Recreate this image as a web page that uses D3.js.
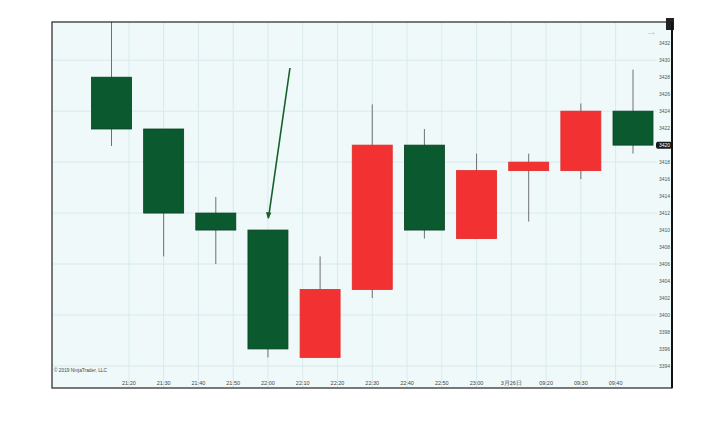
<!DOCTYPE html>
<html>
<head>
<meta charset="utf-8">
<script src="https://d3js.org/d3.v7.min.js"></script>
<style>
body { margin:0; background:#fff; }
svg { font-family: "Liberation Sans", Arial, sans-serif; }
</style>
</head>
<body>
<svg id="chart" width="711" height="437"></svg>
<script>
// bar times (15 min bars, evening session then next morning)
var barTimes = ["21:15","21:30","21:45","22:00","22:15","22:30","22:45","23:00","09:15","09:30","09:45"];
var opens  = [3428, 3421.9, 3412, 3410, 3395, 3403, 3420, 3409, 3417, 3417, 3424];
var highs  = [3436, 3421.9, 3413.9, 3410, 3406.9, 3424.8, 3421.9, 3419, 3419, 3424.9, 3428.9];
var lows   = [3419.9, 3406.9, 3406, 3395, 3395, 3402, 3409, 3409, 3411, 3416, 3419];
var closes = [3421.9, 3412, 3410, 3396, 3403, 3420, 3410, 3417, 3418, 3424, 3420];

var xTickTimes  = ["21:20","21:30","21:40","21:50","22:00","22:10","22:20","22:30","22:40","22:50","23:00","09:10","09:20","09:30","09:40"];
var xTickLabels = ["21:20","21:30","21:40","21:50","22:00","22:10","22:20","22:30","22:40","22:50","23:00","3月26日","09:20","09:30","09:40"];
var yTicks = [3432,3430,3428,3426,3424,3422,3420,3418,3416,3414,3412,3410,3408,3406,3404,3402,3400,3398,3396,3394];
var yGrid  = [3430,3424,3418,3412,3406,3400,3394];
var lastPrice = 3420;

// session minutes: evening from 21:00, morning continues after 23:00 slot
function slot(t) {
  var p = t.split(":"), h = +p[0], m = +p[1];
  if (h >= 21) return (h - 21) * 60 + m;
  return (h - 9) * 60 + m + 120;
}

var svg = d3.select("#chart");
var L = 52, R = 672, T = 22, B = 388, PR = 657;

var x = d3.scaleLinear().domain([15, 165]).range([111.5, 633]);
var y = d3.scaleLinear().domain([3391.4, 3434.5]).range([B, T]);

svg.append("defs").append("clipPath").attr("id", "clip")
  .append("rect").attr("x", L).attr("y", T).attr("width", PR - L).attr("height", B - T);

// background
svg.append("rect").attr("x", L).attr("y", T).attr("width", R - L).attr("height", B - T)
  .attr("fill", "#eff9f9");

// grid
svg.append("g").selectAll("line").data(xTickTimes).enter().append("line")
  .attr("x1", function(d){ return x(slot(d)); }).attr("x2", function(d){ return x(slot(d)); })
  .attr("y1", T).attr("y2", B).attr("stroke", "#d8eaee").attr("stroke-width", 1);
svg.append("g").selectAll("line").data(yGrid).enter().append("line")
  .attr("x1", L).attr("x2", PR)
  .attr("y1", function(d){ return y(d); }).attr("y2", function(d){ return y(d); })
  .attr("stroke", "#d8eaee").attr("stroke-width", 1);

var bars = barTimes.map(function(t, i){
  return { t: t, o: opens[i], h: highs[i], l: lows[i], c: closes[i] };
});

var g = svg.append("g").attr("clip-path", "url(#clip)");
var bw = 40;
// wicks
g.selectAll(".wick").data(bars).enter().append("line")
  .attr("x1", function(d){ return x(slot(d.t)); }).attr("x2", function(d){ return x(slot(d.t)); })
  .attr("y1", function(d){ return y(d.h); }).attr("y2", function(d){ return y(d.l); })
  .attr("stroke", "#707070").attr("stroke-width", 1);
// bodies: green falling, red rising
g.selectAll(".body").data(bars).enter().append("rect")
  .attr("x", function(d){ return x(slot(d.t)) - bw / 2; })
  .attr("y", function(d){ return y(Math.max(d.o, d.c)); })
  .attr("width", bw)
  .attr("height", function(d){ return Math.abs(y(d.o) - y(d.c)); })
  .attr("fill", function(d){ return d.c < d.o ? "#0b5a2f" : "#f23232"; })
  .attr("stroke", function(d){ return d.c < d.o ? "#0a3f22" : "#e02a2a"; })
  .attr("stroke-width", 0.8);

// arrow toward bar 4
var ab = bars[3];
var ax = x(slot(ab.t)), ay = y(ab.o) - 12;
svg.append("line").attr("x1", ax + 22).attr("y1", 68).attr("x2", ax + 0.5).attr("y2", ay)
  .attr("stroke", "#17602c").attr("stroke-width", 1.6);
svg.append("path")
  .attr("d", "M" + (ax - 2) + "," + (ay - 6) + " L" + (ax + 3.5) + "," + (ay - 5.3) + " L" + (ax) + "," + (ay + 1) + "Z")
  .attr("fill", "#17602c");

// y labels
svg.append("g").selectAll("text").data(yTicks).enter().append("text")
  .attr("x", 659).attr("y", function(d){ return y(d) + 2; })
  .attr("font-size", 5).attr("fill", "#555").text(function(d){ return d; });

// last price marker
svg.append("rect").attr("x", 656).attr("y", y(lastPrice) - 3.5).attr("width", 16).attr("height", 7)
  .attr("rx", 2).attr("fill", "#1a1a1a");
svg.append("text").attr("x", 659).attr("y", y(lastPrice) + 2).attr("font-size", 5)
  .attr("fill", "#fff").text(lastPrice);

// x labels
svg.append("g").selectAll("text").data(xTickTimes).enter().append("text")
  .attr("x", function(d){ return x(slot(d)); }).attr("y", 385)
  .attr("text-anchor", "middle").attr("font-size", 5.5).attr("fill", "#444")
  .text(function(d, i){ return xTickLabels[i]; });

// copyright
svg.append("text").attr("x", 54).attr("y", 372).attr("font-size", 4.8).attr("fill", "#444")
  .text("© 2019 NinjaTrader, LLC");

// top-right small marks
svg.append("text").attr("x", 646).attr("y", 35).attr("font-size", 11).attr("fill", "#b8c4c6").text("→");
svg.append("rect").attr("x", 666).attr("y", 18).attr("width", 8).attr("height", 12).attr("fill", "#222");

// frame
svg.append("rect").attr("x", L).attr("y", T).attr("width", R - L).attr("height", B - T)
  .attr("fill", "none").attr("stroke", "#222").attr("stroke-width", 1.2);
svg.append("line").attr("x1", R).attr("x2", R).attr("y1", T).attr("y2", B)
  .attr("stroke", "#111").attr("stroke-width", 2);
</script>
</body>
</html>
